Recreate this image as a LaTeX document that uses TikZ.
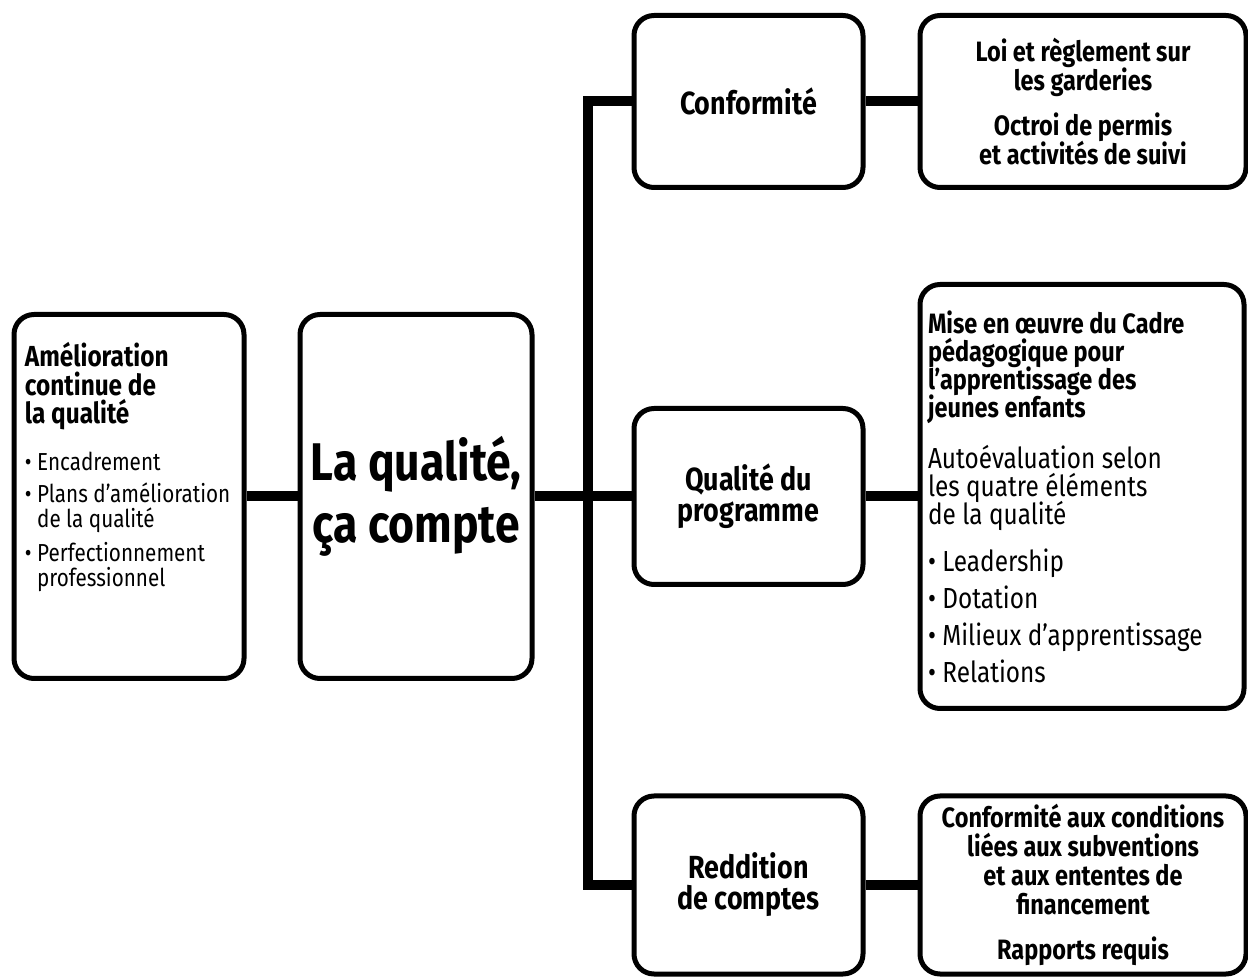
\documentclass[tikz,border=0pt]{standalone}
\usepackage{fontspec}
\setmainfont{Fira Sans}[FakeStretch=0.84]
\usetikzlibrary{positioning}

\begin{document}
\begin{tikzpicture}[
    x=0.5pt, y=-0.5pt,
    node distance=26pt,
    box/.style={draw, line width=2.5pt, rounded corners=10pt, fill=white, inner sep=4pt,
        execute at begin node={\lineskiplimit=-20pt}},
    midbox/.style={box, minimum width=114.5pt, align=center, font=\fontsize{16}{15.5}\selectfont\bfseries},
    infobox/.style={box, minimum width=163pt, align=center, font=\fontsize{14}{14.5}\selectfont\bfseries},
    link/.style={line width=5pt}
    ]

    \clip (0,0) rectangle (1248,977);

    \node[box, minimum width=115pt, minimum height=182pt, inner xsep=5.5pt, inner ysep=0pt] (amel) at (129,496.5)
    {\parbox[c][182pt][t]{104pt}{\vspace*{14pt}%
        \fontsize{14.5}{14.25}\selectfont\bfseries Amélioration\\ continue de\\ la qualité\par
        \vspace{11pt}
        \fontsize{12.3}{12.5}\selectfont\mdseries
        \textbullet\ Encadrement\\[3.5pt]
        \textbullet\ Plans d’amélioration\\
        \hphantom{\textbullet\ }de la qualité\\[4.5pt]
        \textbullet\ Perfectionnement\\
        \hphantom{\textbullet\ }professionnel\par}};
    \node[box, right=25.5pt of amel, minimum width=116pt, minimum height=182pt, align=center,
        font=\fontsize{26.5}{31}\selectfont\bfseries] (qual) {La qualité,\\ ça compte};

    \node[midbox, minimum height=86pt] (conf) at (748.5,101.5) {Conformité};
    \node[midbox, minimum height=88pt] (prog) at (748.5,496.5) {Qualité du\\ programme};
    \node[midbox, minimum height=89pt] (redd) at (748.5,885) {Reddition\\ de comptes};

    \node[infobox, right=of conf, minimum height=86pt] (loi)
    {Loi et règlement sur\\ les garderies\\[8pt] Octroi de permis\\ et activités de suivi};
    \node[box, right=of prog, minimum width=162pt, minimum height=212pt, text width=154pt, align=flush left,
        font=\fontsize{14}{14}\selectfont] (cadre)
    {\bfseries Mise en œuvre du Cadre\\ pédagogique pour\\ l’apprentissage des\\ jeunes enfants\\[11.5pt]
        \mdseries\fontsize{14.5}{14}\selectfont Autoévaluation selon\\ les quatre éléments\\ de la qualité\\[9.5pt]
        \textbullet\ Leadership\\[4.5pt]
        \textbullet\ Dotation\\[4.5pt]
        \textbullet\ Milieux d’apprentissage\\[4.5pt]
        \textbullet\ Relations};
    \node[infobox, right=of redd, minimum height=89pt] (cond)
    {Conformité aux conditions\\ liées aux subventions\\ et aux ententes de\\ financement\\[8pt] Rapports requis};

    \coordinate (hub) at (588,496.5);
    \draw[link] (conf.west) -| (hub) |- (redd.west);
    \path (amel) edge[link] (qual)
    (qual) edge[link] (prog)
    (conf) edge[link] (loi)
    (prog) edge[link] (cadre)
    (redd) edge[link] (cond)
    ;

  \end{tikzpicture}
\end{document}
